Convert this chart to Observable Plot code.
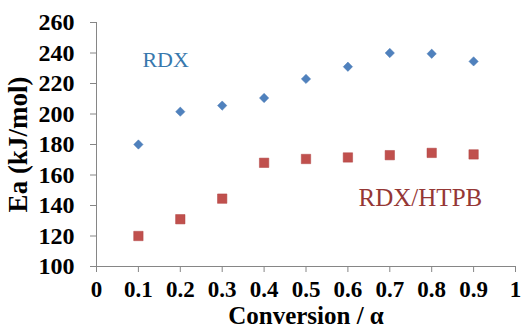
<!DOCTYPE html>
<html><head><meta charset="utf-8">
<script src="https://cdn.jsdelivr.net/npm/d3@7"></script>
<script src="https://cdn.jsdelivr.net/npm/@observablehq/plot@0.6"></script>
<style>
body{margin:0;background:#fff}
#chart svg, #chart svg text { font-family: "Liberation Serif", "Times New Roman", serif !important; }
</style>
</head><body><div id="chart"></div>
<script>
const conversion = [0.1, 0.2, 0.3, 0.4, 0.5, 0.6, 0.7, 0.8, 0.9];
const eaRDX = [180, 201.5, 205.5, 210.5, 223, 231, 240, 239.5, 234.5];
const eaRDXHTPB = [120, 131, 144.5, 168, 170.5, 171.5, 173, 174.5, 173.5];
const xTicks = [0, 0.1, 0.2, 0.3, 0.4, 0.5, 0.6, 0.7, 0.8, 0.9, 1];
const yTicks = [100, 120, 140, 160, 180, 200, 220, 240, 260];
const seriesNames = ["RDX", "RDX/HTPB"];
const xTitle = "Conversion / α";
const yTitle = "Ea (kJ/mol)";

const rdxData = conversion.map((c, i) => ({c, v: eaRDX[i]}));
const htpbData = conversion.map((c, i) => ({c, v: eaRDXHTPB[i]}));

const font = "Liberation Serif";
const axisGray = "#868686";

const chart = Plot.plot({
  width: 522,
  height: 336,
  marginLeft: 96,
  marginRight: 7,
  marginTop: 22,
  marginBottom: 70,
  style: {background: "#fff"},
  x: {domain: [0, 1]},
  y: {domain: [100, 260]},
  marks: [
    Plot.ruleX([0], {stroke: axisGray, strokeWidth: 1}),
    Plot.ruleY([100], {stroke: axisGray, strokeWidth: 1}),
    Plot.axisY({ticks: yTicks, tickSize: 6, tickPadding: 16, stroke: axisGray, fill: "black",
      fontSize: 24, fontWeight: "bold", fontFamily: font, label: null, tickFormat: d => String(d)}),
    Plot.axisX({ticks: xTicks, tickSize: 6, tickPadding: 8, stroke: axisGray, fill: "black",
      fontSize: 23, fontWeight: "bold", fontFamily: font, label: null, tickFormat: d => String(d)}),
    Plot.dot(rdxData, {x: "c", y: "v", symbol: "diamond2", r: 4.2, fill: "#4F81BD", stroke: "#4a7ab5", strokeWidth: 0.5}),
    Plot.dot(htpbData, {x: "c", y: "v", symbol: "square", r: 5.3, fill: "#C0504D", stroke: "#b04340", strokeWidth: 0.5}),
    Plot.text([seriesNames[0]], {x: () => 0.165, y: () => 235.7, text: d => d, fill: "#3778ad",
      fontSize: 22, fontFamily: font, textAnchor: "middle"}),
    Plot.text([seriesNames[1]], {x: () => 0.773, y: () => 144.6, text: d => d, fill: "#953735",
      fontSize: 25, fontFamily: font, textAnchor: "middle"}),
    Plot.text([xTitle], {frameAnchor: "bottom", text: d => d, dy: 57, fontSize: 25, fontWeight: "bold",
      fontFamily: font, fill: "black", lineAnchor: "bottom"}),
    Plot.text([yTitle], {frameAnchor: "left", text: d => d, dx: -78, rotate: -90, fontSize: 27,
      fontWeight: "bold", fontFamily: font, fill: "black", textAnchor: "middle"})
  ]
});
document.getElementById("chart").appendChild(chart);
</script>
</body></html>
